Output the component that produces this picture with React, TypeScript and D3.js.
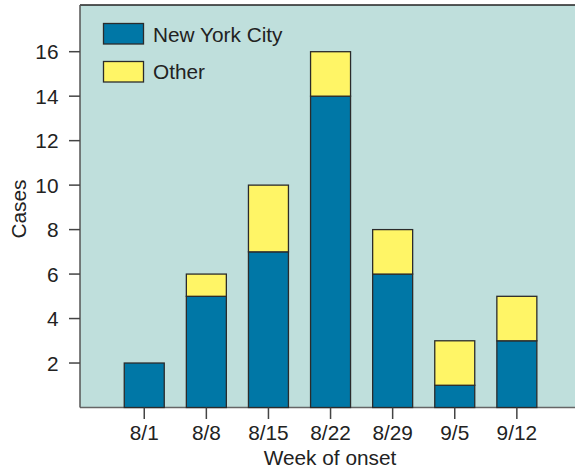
import React from "react";
import * as d3 from "d3";

const weeks = ["8/1", "8/8", "8/15", "8/22", "8/29", "9/5", "9/12"];
const nyc = [2, 5, 7, 14, 6, 1, 3];
const other = [0, 1, 3, 2, 2, 2, 2];
const yTicks = [2, 4, 6, 8, 10, 12, 14, 16];
const seriesNames = ["New York City", "Other"];

const W = 575;
const H = 469;
const left = 80;
const top = 5;
const bottom = 407.5;
const font = "'Liberation Sans', Arial, Helvetica, sans-serif";
const fs = 20.8;
const blue = "#0077a6";
const yellow = "#fff566";
const bg = "#bfdfdc";
const stroke = "#2b2b2b";

export default function App() {
  const y = d3.scaleLinear().domain([0, 18.1]).range([bottom, top]);
  const x = d3
    .scaleBand<string>()
    .domain(weeks)
    .range([113.2, 113.2 + 7 * 62.1])
    .paddingInner(0.356)
    .paddingOuter(0.178);
  const bw = x.bandwidth();

  return (
    <svg width={W} height={H} style={{ position: "absolute", left: 0, top: 0 }}>
      <rect x={left} y={top} width={W - left + 10} height={bottom - top} fill={bg} />
      <line x1={left} x2={W} y1={top} y2={top} stroke="#222" strokeWidth={1.5} />
      <line x1={left} x2={W} y1={bottom} y2={bottom} stroke="#666" strokeWidth={1.5} />
      <line x1={left} x2={left} y1={top} y2={bottom} stroke="#555" strokeWidth={1.5} />
      {yTicks.map((t) => (
        <g key={t}>
          <line x1={69} x2={left} y1={y(t)} y2={y(t)} stroke="#444" strokeWidth={1.5} />
          <text x={58.5} y={y(t) + 7.8} textAnchor="end" fontSize={fs} fontFamily={font} fill="#222">
            {t}
          </text>
        </g>
      ))}
      {weeks.map((w, i) => {
        const bx = x(w)!;
        return (
          <g key={w}>
            <rect x={bx} y={y(nyc[i])} width={bw} height={y(0) - y(nyc[i])} fill={blue} stroke={stroke} strokeWidth={1.3} />
            {other[i] > 0 && (
              <rect
                x={bx}
                y={y(nyc[i] + other[i])}
                width={bw}
                height={y(nyc[i]) - y(nyc[i] + other[i])}
                fill={yellow}
                stroke={stroke}
                strokeWidth={1.3}
              />
            )}
            <line x1={bx + bw / 2} x2={bx + bw / 2} y1={bottom} y2={419} stroke="#444" strokeWidth={1.5} />
            <text x={bx + bw / 2} y={439.5} textAnchor="middle" fontSize={fs} fontFamily={font} fill="#222">
              {w}
            </text>
          </g>
        );
      })}
      <text x={330} y={464.5} textAnchor="middle" fontSize={fs} fontFamily={font} fill="#222">
        Week of onset
      </text>
      <text
        transform={`translate(26, 209) rotate(-90)`}
        textAnchor="middle"
        fontSize={fs}
        fontFamily={font}
        fill="#222"
      >
        Cases
      </text>
      {seriesNames.map((s, i) => (
        <g key={s}>
          <rect x={103.5} y={23.5 + i * 38} width={40} height={20.5} fill={i === 0 ? blue : yellow} stroke={stroke} strokeWidth={1.3} />
          <text x={153} y={42.3 + i * 37} fontSize={fs} fontFamily={font} fill="#222">
            {s}
          </text>
        </g>
      ))}
    </svg>
  );
}
